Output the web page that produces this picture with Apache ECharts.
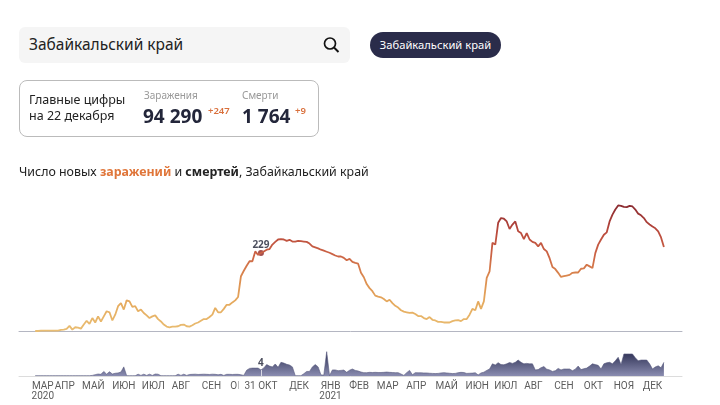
<!DOCTYPE html>
<html>
<head>
<meta charset="utf-8">
<script src="https://cdn.jsdelivr.net/npm/echarts@6/dist/echarts.min.js"></script>
<style>
	html, body { margin: 0; padding: 0; background: #fff; }
	body { width: 720px; height: 405px; overflow: hidden; position: relative; font-family: "Noto Sans", sans-serif; color: #222; }
	#chart { position: absolute; left: 0; top: 0; width: 720px; height: 405px; }
	.abs { position: absolute; white-space: nowrap; line-height: 1; }
	#search { position: absolute; left: 19px; top: 27px; width: 331px; height: 36px; background: #f5f5f5; border-radius: 6px; }
	#pill { position: absolute; left: 370px; top: 32px; width: 131px; height: 26px; line-height: 26px; background: #2a2c4a; border-radius: 13px; color: #fff; font-size: 11.2px; text-align: center; white-space: nowrap; }
	#card { position: absolute; left: 19px; top: 80px; width: 298px; height: 55px; border: 1px solid #bbb; border-radius: 8px; }
	.num { font-size: 19px; font-weight: 700; color: #23263a; }
	.plus { font-size: 9.5px; font-weight: 600; color: #d9703c; }
	.cap { font-size: 10px; color: #999; }
</style>
</head>
<body>
<div id="chart"></div>
<div id="search"></div>
<div class="abs" style="left:29px;top:37px;font-size:15.5px;">Забайкальский край</div>
<svg class="abs" style="left:322px;top:36px;" width="18" height="18" viewBox="0 0 18 18"><circle cx="8" cy="7.5" r="5.5" fill="none" stroke="#111" stroke-width="1.7"/><line x1="12" y1="11.5" x2="16.5" y2="16" stroke="#111" stroke-width="1.9"/></svg>
<div id="pill">Забайкальский край</div>
<div id="card"></div>
<div class="abs" style="left:29px;top:94px;font-size:12.5px;">Главные цифры</div>
<div class="abs" style="left:29px;top:110px;font-size:12.5px;">на 22 декабря</div>
<div class="abs cap" style="left:144px;top:90px;">Заражения</div>
<div class="abs num" style="left:143px;top:107px;">94 290</div>
<div class="abs plus" style="left:208px;top:106px;">+247</div>
<div class="abs cap" style="left:242px;top:90px;">Смерти</div>
<div class="abs num" style="left:242px;top:107px;">1 764</div>
<div class="abs plus" style="left:295px;top:106px;">+9</div>
<script>
// one reading every 3 days, first one is 1 march 2020
var stepDays = 3;

var caseValues = [
	0, 0, 1, 1, 1, 1, 1, 1, 1, 3,
	4, 6, 15, 4, 11, 10, 7, 19, 30, 21,
	38, 25, 43, 28, 43, 58, 55, 31, 48, 73,
	82, 63, 90, 87, 71, 73, 58, 63, 53, 46,
	38, 43, 46, 35, 28, 19, 13, 11, 13, 13,
	14, 18, 19, 14, 13, 17, 22, 25, 30, 35,
	35, 41, 48, 68, 55, 55, 65, 77, 77, 84,
	90, 100, 161, 177, 192, 205, 205, 234, 224, 229,
	234, 239, 241, 254, 262, 269, 270, 269, 265, 268,
	263, 263, 265, 264, 263, 262, 257, 249, 246, 243,
	239, 236, 233, 230, 226, 222, 219, 219, 215, 208,
	212, 203, 200, 198, 171, 158, 138, 126, 117, 104,
	101, 99, 94, 87, 92, 82, 74, 69, 61, 57,
	55, 53, 54, 50, 44, 44, 38, 35, 41, 33,
	31, 27, 27, 25, 25, 25, 29, 31, 32, 29,
	35, 35, 48, 65, 61, 87, 65, 87, 156, 175,
	259, 254, 318, 332, 330, 322, 300, 313, 322, 293,
	288, 270, 288, 269, 262, 259, 249, 259, 241, 234,
	214, 188, 182, 171, 159, 161, 163, 165, 171, 172,
	172, 183, 184, 195, 190, 185, 229, 254, 269, 283,
	290, 322, 342, 357, 369, 368, 365, 364, 368, 366,
	357, 345, 340, 332, 320, 313, 307, 302, 293, 275,
	247
];

var deathValues = [
	0.2, 0.2, 0.2, 0.2, 0.2, 0.2, 0.2, 0.2, 0.2, 0.2,
	0.2, 0.2, 0.2, 0.2, 0.2, 0.2, 0.2, 0.2, 0.2, 0.2,
	0.4, 0.9, 1.3, 1.1, 3, 1.2, 2.8, 1.3, 1.8, 2,
	2.6, 6, 0.2, 0.2, 0.2, 0.2, 1.2, 0.4, 1.2, 0.4,
	1.2, 0.4, 1.3, 1.2, 0.2, 0.2, 0.2, 0.2, 0.2, 0.2,
	1.2, 0.4, 1.2, 0.4, 1, 1.1, 1.2, 1, 1.1, 1.2,
	1.1, 1, 1.2, 1.1, 0.8, 1.1, 0.4, 1.1, 1.1, 1,
	1.1, 1.1, 0.8, 0.4, 3.8, 5, 5.2, 5.2, 5.2, 4,
	5.3, 7.5, 6.5, 6, 7.9, 5.7, 9, 8.5, 7.7, 7.2,
	6, 0.2, 0.2, 0.2, 1.5, 3, 3, 6, 7.5, 6,
	0.7, 0.6, 16, 0.2, 4, 4, 3.5, 3.7, 3.9, 2.4,
	3.8, 4.6, 3.7, 3.3, 2.6, 2.2, 2.2, 2.4, 2.3, 2.4,
	2.3, 2.3, 2.4, 2.6, 2.4, 2.3, 2.2, 2.2, 1.3, 0.4,
	2.2, 3.7, 0.8, 2.2, 2.1, 2.1, 2, 2, 1.8, 1.7,
	1.6, 1.7, 2, 2.2, 2, 1.8, 1.6, 1.7, 2.2, 2.4,
	2.3, 1.7, 1.8, 1.9, 2.1, 0.7, 2, 2.5, 3.7, 4.6,
	8, 7.2, 8.8, 7.5, 7.4, 8, 8.9, 8.3, 9, 10.5,
	9, 8, 8.3, 8, 8, 4, 4.2, 5.5, 6.2, 4.5,
	4, 3, 3.5, 5, 4, 4.6, 4.6, 4.6, 3.5, 4.5,
	6.5, 4.2, 4.8, 5.2, 6.5, 8, 7.5, 7, 4.6, 8,
	8.7, 9, 8, 10, 12.3, 7.5, 14.5, 14.5, 14.5, 14.5,
	12, 10, 10.5, 10.5, 10.5, 8, 4.6, 6, 6.7, 5.4,
	9
];

var tickDays = [8, 31, 61, 93, 124, 153, 185, 215, 237, 277, 310, 340, 370, 400, 432, 464, 494, 523, 555, 586, 618, 648];
var tickLabels = ['МАР\n2020', 'АПР', 'МАЙ', 'ИЮН', 'ИЮЛ', 'АВГ', 'СЕН', 'ОКТ', '{hl|31 ОКТ}', 'ДЕК', 'ЯНВ\n2021', 'ФЕВ', 'МАР', 'АПР', 'МАЙ', 'ИЮН', 'ИЮЛ', 'АВГ', 'СЕН', 'ОКТ', 'НОЯ', 'ДЕК'];

var pickedDay = 237;
var pickedCases = 229;
var pickedDeaths = 4;

function toPoints(values) {
	return values.map(function (v, i) {
		return [i * stepDays, v];
	});
}

var myChart = echarts.init(document.getElementById('chart'));
var option = {
	animation: false,
	title: {
		left: 19,
		top: 166,
		padding: 0,
		text: 'Число новых {a|заражений} и {b|смертей}, Забайкальский край',
		textStyle: {
			fontFamily: 'Noto Sans',
			fontSize: 12.4,
			fontWeight: 'normal',
			color: '#222',
			rich: {
				a: {fontFamily: 'Noto Sans', fontSize: 12.4, fontWeight: 'bold', color: '#e0763a'},
				b: {fontFamily: 'Noto Sans', fontSize: 12.4, fontWeight: 'bold', color: '#222'}
			}
		}
	},
	grid: [
		{left: 19, width: 663, top: 190, height: 141},
		{left: 19, width: 663, top: 345, height: 31}
	],
	xAxis: [
		{
			type: 'value', gridIndex: 0, min: -17, max: 679,
			splitLine: {show: false}, axisTick: {show: false}, axisLabel: {show: false},
			axisLine: {show: true, lineStyle: {color: '#b4b6c2', width: 1}}
		},
		{
			type: 'value', gridIndex: 1, min: -17, max: 679,
			splitLine: {show: false}, axisTick: {show: false},
			axisLine: {show: true, lineStyle: {color: '#dcdcdc', width: 1}},
			axisLabel: {
				customValues: tickDays,
				hideOverlap: false,
				showMinLabel: true,
				showMaxLabel: true,
				margin: 5,
				fontFamily: 'Roboto',
				fontSize: 10,
				lineHeight: 10,
				color: '#5c5c5c',
				formatter: function (val) {
					return tickLabels[tickDays.indexOf(val)];
				},
				rich: {
					hl: {fontFamily: 'Roboto', fontSize: 10, color: '#5c5c5c', backgroundColor: '#fff', padding: [0, 6, 0, 6]}
				}
			}
		}
	],
	yAxis: [
		{type: 'value', gridIndex: 0, min: 0, max: 414.5, show: false},
		{type: 'value', gridIndex: 1, min: 0, max: 20.4, show: false}
	],
	visualMap: {
		show: false,
		type: 'continuous',
		seriesIndex: 0,
		dimension: 1,
		min: 0,
		max: 370,
		inRange: {color: ['#e9bd72', '#e6ad60', '#dd8f50', '#cc6445', '#b8483c', '#8a2a30']}
	},
	series: [
		{
			name: 'заражения',
			type: 'line',
			xAxisIndex: 0,
			yAxisIndex: 0,
			symbol: 'none',
			lineStyle: {width: 1.8},
			data: toPoints(caseValues)
		},
		{
			name: 'смерти',
			type: 'line',
			xAxisIndex: 1,
			yAxisIndex: 1,
			symbol: 'none',
			lineStyle: {width: 0.6, color: '#55577c'},
			areaStyle: {
				opacity: 1,
				color: new echarts.graphic.LinearGradient(0, 0, 0, 1, [
					{offset: 0, color: '#2c2f52'},
					{offset: 1, color: '#8a8cb0'}
				])
			},
			data: toPoints(deathValues),
			markLine: {
				silent: true,
				symbol: 'none',
				label: {show: false},
				lineStyle: {color: '#d8d8e4', width: 1, type: 'solid'},
				data: [[{coord: [pickedDay, 0]}, {coord: [pickedDay, pickedDeaths]}]]
			}
		},
		{
			name: 'день заражения',
			type: 'scatter',
			xAxisIndex: 0,
			yAxisIndex: 0,
			symbol: 'circle',
			symbolSize: 6,
			itemStyle: {color: '#8f2424'},
			label: {
				show: true, position: 'top', distance: 0,
				fontFamily: 'Noto Sans', fontSize: 10, fontWeight: 'bold', color: '#1d2033',
				formatter: function (p) { return p.value[1]; }
			},
			data: [[pickedDay, pickedCases]]
		},
		{
			name: 'день смерти',
			type: 'scatter',
			xAxisIndex: 1,
			yAxisIndex: 1,
			symbolSize: 0,
			label: {
				show: true, position: 'top', distance: 2,
				fontFamily: 'Noto Sans', fontSize: 10, fontWeight: 'bold', color: '#1d2033',
				formatter: function (p) { return p.value[1]; }
			},
			data: [[pickedDay, pickedDeaths]]
		}
	]
};
myChart.setOption(option);
</script>
</body>
</html>
